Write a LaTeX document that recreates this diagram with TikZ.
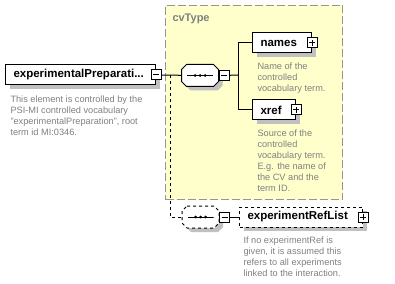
\documentclass[tikz,border=0pt]{standalone}
\usepackage{fontspec}
\setmainfont{Liberation Sans}
\usetikzlibrary{positioning, shadows}

\definecolor{typefill}{RGB}{255,255,204}
\definecolor{typeline}{RGB}{150,150,150}
\definecolor{docgray}{RGB}{128,128,128}
\definecolor{shadowgray}{RGB}{192,192,192}

% cut-corner outline round a node, moved by #2
\newcommand{\octagon}[2]{%
  ([shift={(#2)}, xshift=5pt]#1.north west) -- ([shift={(#2)}, xshift=-5pt]#1.north east) --
  ([shift={(#2)}, yshift=-5pt]#1.north east) -- ([shift={(#2)}, yshift=5pt]#1.south east) --
  ([shift={(#2)}, xshift=-5pt]#1.south east) -- ([shift={(#2)}, xshift=5pt]#1.south west) --
  ([shift={(#2)}, yshift=5pt]#1.south west) -- ([shift={(#2)}, yshift=-5pt]#1.north west) -- cycle}

\tikzset{
  shade4/.style={drop shadow={shadow xshift=4pt, shadow yshift=-4pt, fill=shadowgray, opacity=1}},
  elem/.style={draw, fill=white, shade4, font=\fontsize{11.5}{13}\selectfont\bfseries,
    minimum height=20pt, inner xsep=8pt, inner ysep=0pt, text width=#1, align=left, anchor=west},
  optelem/.style={elem=#1, dashed},
  seqbox/.style={minimum width=36pt, minimum height=21pt, inner sep=0pt},
  seqdots/.style={inner sep=0pt, minimum width=26pt, minimum height=4pt,
    path picture={
      \draw (path picture bounding box.west) -- (path picture bounding box.east);
      \foreach \dx in {-5,0,5}
        \fill ([xshift=\dx pt]path picture bounding box.center) circle (1.5pt);
    }},
  toggle/.style={draw, solid, fill=white, minimum size=10pt, inner sep=0pt},
  minus/.style={toggle, path picture={
      \draw ([xshift=2pt]path picture bounding box.west) -- ([xshift=-2pt]path picture bounding box.east);}},
  plus/.style={toggle, path picture={
      \draw ([xshift=2pt]path picture bounding box.west) -- ([xshift=-2pt]path picture bounding box.east);
      \draw ([yshift=-2pt]path picture bounding box.north) -- ([yshift=2pt]path picture bounding box.south);}},
  doc/.style={font=\fontsize{9.2}{11}\selectfont, text=docgray, align=left, anchor=north west, inner sep=0pt}
}

\begin{document}
\begin{tikzpicture}[x=1pt, y=-1pt, line width=1pt]
  \useasboundingbox (0,0) rectangle (395,283);

  \node (cvtype) [draw=typeline, fill=typefill, dash pattern=on 8pt off 3pt, anchor=north west,
    minimum width=177pt, minimum height=194pt, inner sep=0pt] at (165,5) {};
  \node (cvlabel) [anchor=west, inner sep=0pt, text=docgray, font=\fontsize{11}{13}\selectfont\bfseries] at (172,19) {cvType};

  \node (prep) [elem=134pt] at (5,75) {experimentalPreparati...};
  \node (prepm) [minus] at (prep.east) {};
  \node (prepdoc) [doc] at (10,95) {This element is controlled by the\\PSI-MI controlled vocabulary\\"experimentalPreparation", root\\term id MI:0346.};

  \node (seq1) [seqbox] at (200,75.5) {};
  \fill[shadowgray] \octagon{seq1}{4,4};
  \draw[fill=white] \octagon{seq1}{0,0};
  \node (seq1d) [seqdots] at (seq1) {};
  \node (seq1m) [minus, anchor=west] at (seq1.east) {};
  \coordinate (fork) at (238,75);

  \node (names) [elem=43pt] at (252,43) {names};
  \node (namesp) [plus] at (names.east) {};
  \node (namesdoc) [doc] at (257,62) {Name of the\\controlled\\vocabulary term.};

  \node (xref) [elem=27pt] at (252,110) {xref};
  \node (xrefp) [plus] at (xref.east) {};
  \node (xrefdoc) [doc] at (257,129) {Source of the\\controlled\\vocabulary term.\\E.g. the name of\\the CV and the\\term ID.};

  \coordinate (split) at (170,75);
  \node (seq2) [seqbox] at (200.5,217) {};
  \fill[shadowgray] \octagon{seq2}{4,4};
  \draw[fill=white, dashed] \octagon{seq2}{0,0};
  \node (seq2d) [seqdots] at (seq2) {};
  \node (seq2m) [minus, anchor=west] at (seq2.east) {};

  \node (reflist) [optelem=107pt] at (239,217) {experimentRefList};
  \node (reflistp) [plus] at (reflist.east) {};
  \node (reflistdoc) [doc] at (243,236) {If no experimentRef is\\given, it is assumed this\\refers to all experiments\\linked to the interaction.};

  \draw (prepm) -- (seq1);
  \draw (seq1m) -- (fork);
  \draw (fork) |- (names);
  \draw (fork) |- (xref);
  \draw[dashed] (split) |- (seq2);
  \draw (seq2m) -- (reflist);
\end{tikzpicture}
\end{document}
